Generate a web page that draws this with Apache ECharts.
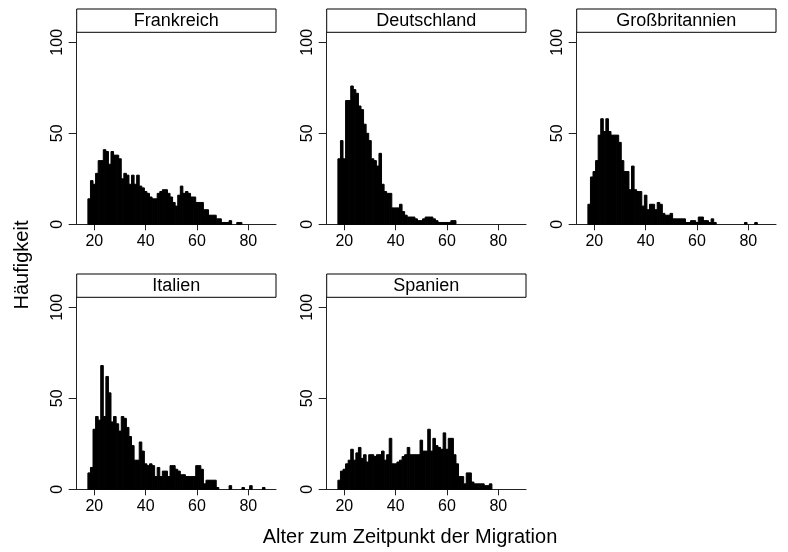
<!DOCTYPE html>
<html>
<head>
<meta charset="utf-8">
<script src="https://cdn.jsdelivr.net/npm/echarts@6/dist/echarts.min.js"></script>
<style>
  html, body { margin: 0; padding: 0; background: #fff; }
  #main { width: 788px; height: 552px; }
</style>
</head>
<body>
<div id="main"></div>
<script>
// Alter 18..86, ein Balken je Lebensjahr
var ages = [];
for (var a = 18; a <= 86; a++) ages.push(a);

var countries = ['Frankreich', 'Deutschland', 'Großbritannien', 'Italien', 'Spanien'];

var frankreich = [14, 24, 22, 28, 35, 35, 41, 40, 33, 40,
  38, 38, 36, 25, 28, 27, 22, 27, 22, 27,
  21, 20, 18, 17, 15, 14, 14, 17, 18, 19,
  19, 17, 15, 12, 10, 16, 21, 17, 18, 17,
  15, 15, 12, 12, 12, 8, 8, 5, 5, 5,
  3, 3, 1, 1, 1, 2, 0, 0, 1, 1,
  0, 0, 0, 0, 0, 0, 0, 0, 0];

var deutschland = [36, 46, 36, 68, 68, 76, 74, 72, 65, 63,
  55, 50, 46, 36, 35, 32, 39, 22, 18, 17,
  17, 9, 9, 9, 11, 7, 5, 4, 4, 4,
  3, 2, 2, 3, 4, 4, 4, 3, 2, 1,
  1, 1, 1, 1, 2, 2, 0, 0, 0, 0,
  0, 0, 0, 0, 0, 0, 0, 0, 0, 0,
  0, 0, 0, 0, 0, 0, 0, 0, 0];

var grossbritannien = [11, 26, 29, 35, 49, 58, 51, 58, 51, 49,
  49, 49, 45, 35, 29, 29, 19, 32, 19, 18,
  18, 10, 16, 8, 11, 11, 8, 12, 11, 6,
  5, 5, 6, 3, 3, 3, 3, 3, 1, 1,
  2, 2, 1, 4, 4, 2, 2, 1, 3, 1,
  0, 0, 0, 0, 0, 0, 0, 0, 0, 0,
  0, 1, 0, 0, 0, 1, 0, 0, 0];

var italien = [9, 12, 33, 40, 38, 68, 40, 62, 53, 37,
  40, 36, 32, 40, 39, 34, 29, 24, 16, 16,
  26, 21, 14, 13, 14, 13, 7, 12, 7, 10,
  10, 7, 13, 13, 11, 10, 8, 8, 7, 7,
  7, 7, 13, 13, 11, 3, 5, 5, 5, 5,
  1, 0, 0, 0, 0, 2, 0, 0, 0, 0,
  1, 0, 0, 2, 0, 0, 0, 0, 1];

var spanien = [5, 10, 11, 14, 16, 22, 16, 20, 23, 17,
  19, 15, 19, 19, 18, 19, 19, 21, 16, 19,
  28, 14, 14, 15, 16, 18, 19, 23, 19, 19,
  19, 19, 27, 21, 21, 33, 21, 28, 24, 23,
  22, 31, 22, 28, 28, 19, 14, 7, 7, 3,
  9, 9, 4, 3, 3, 3, 3, 2, 2, 3,
  0, 0, 0, 0, 0, 0, 0, 0, 0];

var xTicks = [20, 40, 60, 80];
var yTicks = [0, 50, 100];

var counts = [frankreich, deutschland, grossbritannien, italien, spanien];

var FONT = '"Liberation Sans", Arial, Helvetica, sans-serif';

var myChart = echarts.init(document.getElementById('main'), null, { renderer: 'canvas' });

var grids = [], xAxes = [], yAxes = [], series = [], graphics = [];

countries.forEach(function (name, i) {
  var col = i % 3, row = Math.floor(i / 3);
  var left = 70 + 250 * col;
  var top = 32.3 + 265 * row;
  grids.push({ left: left, top: top, width: 206, height: 192, containLabel: false });
  xAxes.push({
    type: 'value', gridIndex: i, min: 10.53, max: 90.78,
    splitLine: { show: false },
    axisLine: { lineStyle: { color: '#222', width: 1 } },
    axisTick: { length: 6, lineStyle: { color: '#222' }, customValues: xTicks },
    axisLabel: { color: '#000', fontSize: 16, fontFamily: FONT, margin: 9, customValues: xTicks }
  });
  yAxes.push({
    type: 'value', gridIndex: i, min: 0, max: 105.5, offset: -6.7,
    splitLine: { show: false },
    axisLine: { show: true, lineStyle: { color: '#222', width: 1 } },
    axisTick: { show: true, length: 8, lineStyle: { color: '#222' }, customValues: yTicks },
    axisLabel: { color: '#000', fontSize: 16, fontFamily: FONT, rotate: 90, margin: 11, customValues: yTicks }
  });
  series.push({
    type: 'custom',
    name: name,
    xAxisIndex: i,
    yAxisIndex: i,
    encode: { x: 0, y: 1 },
    data: ages.map(function (age, k) { return [age, counts[i][k]]; }).filter(function (d) { return d[1] > 0; }),
    renderItem: function (params, api) {
      var p0 = api.coord([api.value(0) - 0.5, api.value(1)]);
      var p1 = api.coord([api.value(0) + 0.5, 0]);
      return {
        type: 'rect',
        shape: { x: p0[0], y: p0[1], width: p1[0] - p0[0], height: p1[1] - p0[1] },
        style: { fill: '#000', stroke: '#000', lineWidth: 1 }
      };
    },
    silent: true
  });
  // Kopfzeile (Strip) mit Ländernamen
  graphics.push({
    type: 'rect',
    shape: { x: left + 6.7, y: 9 + 265 * row, width: 199.3, height: 23.3 },
    style: { fill: '#fff', stroke: '#000', lineWidth: 1 },
    z: 10
  });
  graphics.push({
    type: 'text',
    x: left + 6.7 + 199.3 / 2,
    y: 9 + 265 * row + 23.3 / 2 + 0.5,
    style: { text: name, fontSize: 18, fontFamily: FONT, fill: '#000', align: 'center', verticalAlign: 'middle' },
    z: 11
  });
});

graphics.push({
  type: 'text',
  x: 410, y: 537,
  style: { text: 'Alter zum Zeitpunkt der Migration', fontSize: 20, fontFamily: FONT, fill: '#000', align: 'center', verticalAlign: 'middle' }
});
graphics.push({
  type: 'text',
  x: 22, y: 265,
  rotation: Math.PI / 2,
  style: { text: 'Häufigkeit', fontSize: 20, fontFamily: FONT, fill: '#000', align: 'center', verticalAlign: 'middle' }
});

var option = {
  backgroundColor: '#fff',
  animation: false,
  grid: grids,
  xAxis: xAxes,
  yAxis: yAxes,
  series: series,
  graphic: graphics
};

myChart.setOption(option);
</script>
</body>
</html>
